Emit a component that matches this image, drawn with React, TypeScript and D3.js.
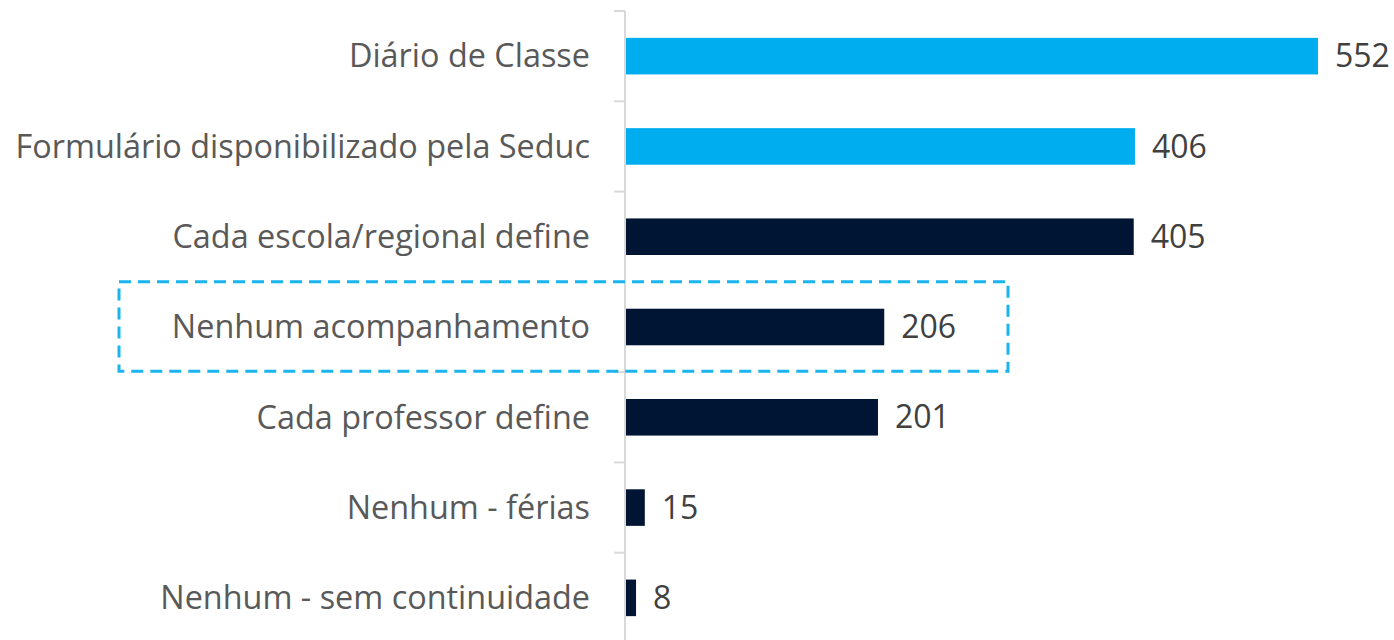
import React from "react";
import * as d3 from "d3";

const categories = [
  "Diário de Classe",
  "Formulário disponibilizado pela Seduc",
  "Cada escola/regional define",
  "Nenhum acompanhamento",
  "Cada professor define",
  "Nenhum - férias",
  "Nenhum - sem continuidade",
];
const values = [552, 406, 405, 206, 201, 15, 8];
const highlighted = ["Diário de Classe", "Formulário disponibilizado pela Seduc"];
const boxed = "Nenhum acompanhamento";

const W = 1394;
const H = 640;

export default function App() {
  const x = d3.scaleLinear().domain([0, 552]).range([626, 1318]);
  const y = d3.scaleBand<string>().domain(categories).range([11, 643]).paddingInner(0.595).paddingOuter(0.2975);
  const step = y.step();
  const bandTop = (c: string) => (y(c) as number) - y.paddingInner() * step / 2;
  const font = "'Open Sans', sans-serif";
  return (
    <svg width={W} height={H} style={{ position: "absolute", left: 0, top: 0, background: "#fff" }}>
      <line x1={625} x2={625} y1={11} y2={H} stroke="#d9d9d9" strokeWidth={2} />
      {d3.range(categories.length + 1).map((i) => {
        const yy = 11 + i * step;
        return <line key={i} x1={614} x2={625} y1={yy} y2={yy} stroke="#d9d9d9" strokeWidth={2} />;
      })}
      {categories.map((c, i) => {
        const yc = (y(c) as number) + y.bandwidth() / 2;
        return (
          <g key={c}>
            <rect
              x={x(0)}
              y={y(c)}
              width={x(values[i]) - x(0)}
              height={y.bandwidth()}
              fill={highlighted.includes(c) ? "#00AEEF" : "#001433"}
            />
            <text x={590} y={yc} dy="0.35em" textAnchor="end" fontFamily={font} fontSize={32.4} fill="#595959">
              {c}
            </text>
            <text x={x(values[i]) + 17} y={yc} dy="0.35em" fontFamily={font} fontSize={32} fill="#404040">
              {values[i]}
            </text>
          </g>
        );
      })}
      <rect
        x={119}
        y={bandTop(boxed)}
        width={1008 - 119}
        height={step - 1}
        fill="none"
        stroke="#1ab4ef"
        strokeWidth={3}
        strokeDasharray="12 7"
      />
    </svg>
  );
}
